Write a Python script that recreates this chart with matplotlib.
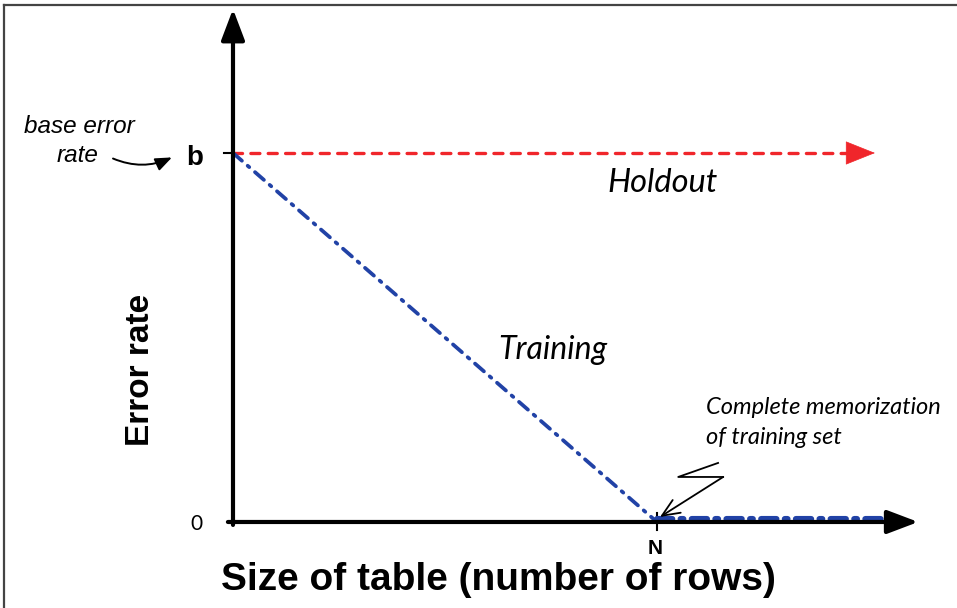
import matplotlib.pyplot as plt
from matplotlib.lines import Line2D

plt.rcParams['lines.scale_dashes'] = False

# learning curve values: size of table (in units of N) vs error rate (in units of b)
holdout_x = [0.0, 1.45]
holdout_y = [1.0, 1.0]
train_x = [0.0, 1.0]
train_y = [1.0, 0.0]
memorized_x = [1.0, 1.538]
memorized_y = [0.008, 0.008]
tick_labels = {'b': 1.0, '0': 0.0}
n_value = 1.0

red = '#f0262b'
blue = '#2142a6'
italic_font = ['Lato', 'DejaVu Sans']

fig = plt.figure(figsize=(9.57, 6.08), dpi=100)
ax = fig.add_axes([0, 0, 1, 1])
ax.set_xlim(-0.5495, 1.7075)
ax.set_ylim(-0.2331, 1.4146)
ax.axis('off')

# border on top and left edge
fig.add_artist(Line2D([0.0042, 1.0], [0.9918, 0.9918], color='#444444', lw=1.6))
fig.add_artist(Line2D([0.0042, 0.0042], [0.0, 0.9918], color='#444444', lw=1.6))

# axes drawn as arrows
ax.annotate('', xy=(0, 1.39), xytext=(0, -0.008),
            arrowprops=dict(arrowstyle='-|>,head_length=0.95,head_width=0.36',
                            mutation_scale=20, lw=3, color='black',
                            shrinkA=0, shrinkB=0))
ax.annotate('', xy=(1.616, 0), xytext=(-0.012, 0),
            arrowprops=dict(arrowstyle='-|>,head_length=0.95,head_width=0.36',
                            mutation_scale=20, lw=3, color='black',
                            shrinkA=0, shrinkB=0))

# ticks at b and N
ax.plot([-0.021, 0], [tick_labels['b']] * 2, color='black', lw=1.5)
ax.plot([n_value, n_value], [0.024, -0.022], color='black', lw=1.5)

# holdout error stays at the base rate
ax.plot(holdout_x, holdout_y, color=red, lw=2.4, dashes=(6.5, 6),
        dash_capstyle='round')
ax.annotate('', xy=(holdout_x[1] + 0.064, 1.0), xytext=(holdout_x[1] - 0.01, 1.0),
            arrowprops=dict(arrowstyle='-|>,head_length=1.0,head_width=0.4',
                            mutation_scale=20, lw=0.5, color=red,
                            shrinkA=0, shrinkB=0))

# training error falls to zero at N
ax.plot(train_x, train_y, color=blue, lw=2.7, dashes=(8.5, 5.5, 1.5, 5.5),
        dash_capstyle='round')
ax.plot(memorized_x, memorized_y, color=blue, lw=4.4, dashes=(11, 6, 2, 6),
        dash_capstyle='round')

# labels
ax.text(-0.0896, 0.986, 'b', fontsize=20, fontweight='bold', ha='center', va='center',
        family=['Liberation Sans'])
ax.text(-0.087, -0.005, '0', fontsize=15, ha='center', va='center', family=italic_font)
ax.text(n_value - 0.005, -0.072, 'N', fontsize=15, fontweight='bold', ha='center',
        va='center', family=['Liberation Sans'])
ax.text(-0.219, 0.412, 'Error rate', fontsize=24, fontweight='bold', rotation=90,
        ha='center', va='center', family=['Liberation Sans'])
ax.text(0.627, -0.158, 'Size of table (number of rows)', fontsize=28, fontweight='bold',
        ha='center', va='center', family=['Liberation Sans'])

ax.text(1.014, 0.919, 'Holdout', fontsize=23.5, style='italic', ha='center', va='center',
        family=italic_font)
ax.text(0.755, 0.466, 'Training', fontsize=23, style='italic', ha='center', va='center',
        family=italic_font)
ax.text(1.116, 0.309, 'Complete memorization', fontsize=17, style='italic',
        ha='left', va='center', family=italic_font)
ax.text(1.116, 0.230, 'of training set', fontsize=17, style='italic',
        ha='left', va='center', family=italic_font)

ax.text(-0.363, 1.072, 'base error', fontsize=17.5, style='italic', ha='center',
        va='center', family=['Liberation Sans'])
ax.text(-0.366, 0.993, 'rate', fontsize=17.5, style='italic', ha='center', va='center',
        family=['Liberation Sans'])
ax.annotate('', xy=(-0.144, 0.988), xytext=(-0.283, 0.985),
            arrowprops=dict(arrowstyle='-|>,head_length=0.55,head_width=0.22',
                            mutation_scale=18, lw=1.4, color='black',
                            connectionstyle='arc3,rad=0.22', shrinkA=0, shrinkB=0))

# squiggle pointing at N
ax.plot([1.144, 1.050, 1.156], [0.160, 0.122, 0.122], color='black', lw=1.3)
ax.annotate('', xy=(1.007, 0.0136), xytext=(1.156, 0.122),
            arrowprops=dict(arrowstyle='->,head_length=0.7,head_width=0.3',
                            mutation_scale=18, lw=1.3, color='black',
                            shrinkA=0, shrinkB=0))

fig.savefig('out.png', dpi=100)
